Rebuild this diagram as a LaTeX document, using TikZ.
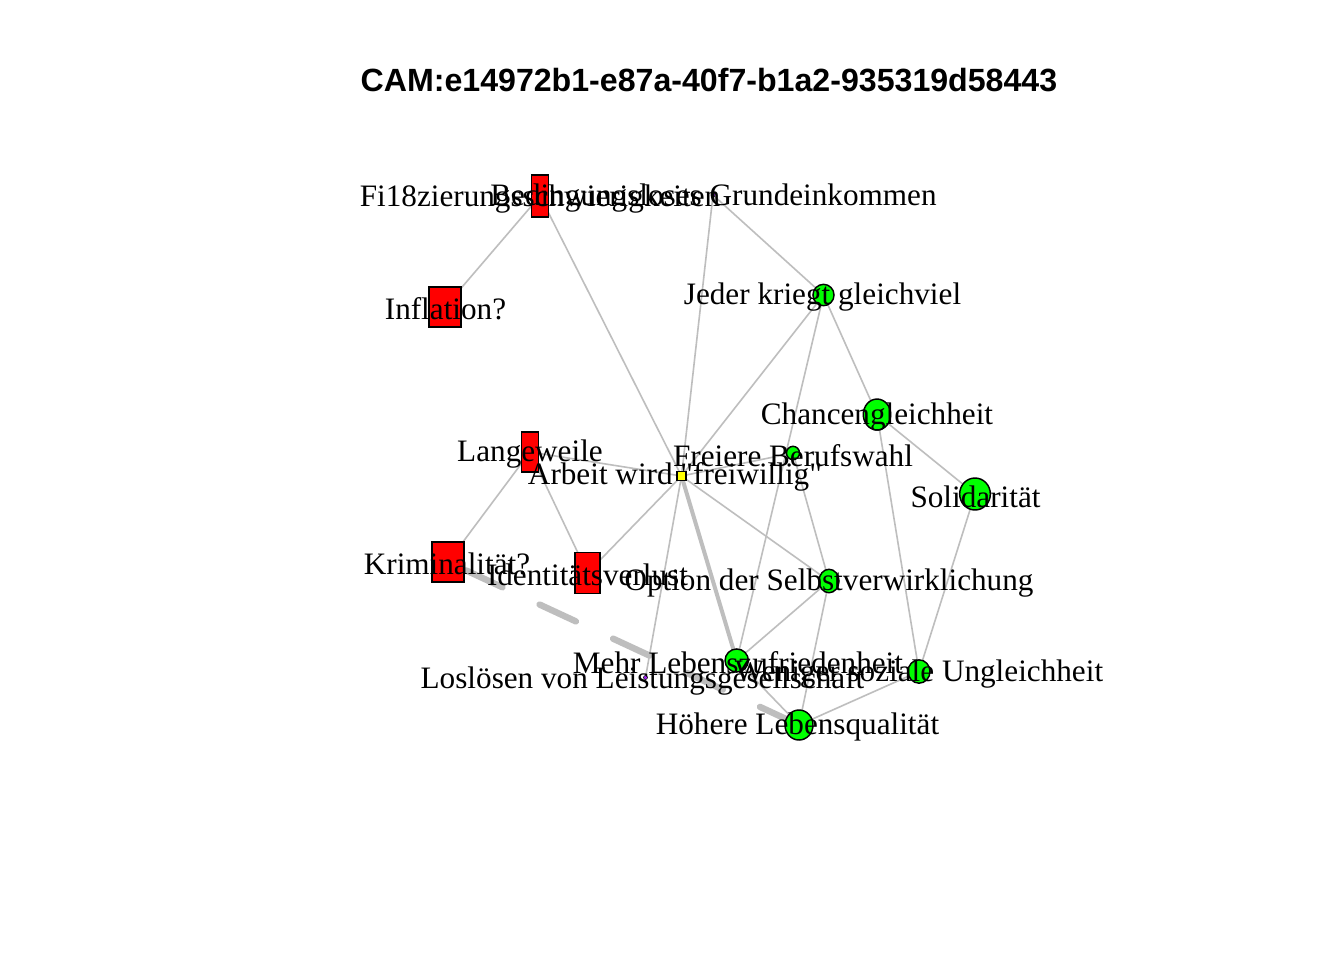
\documentclass[tikz,border=0pt]{standalone}
\usepackage{fontspec}
\setmainfont{Liberation Serif}
\newfontfamily\titlefont{Liberation Sans}
\usetikzlibrary{shapes.geometric}
\definecolor{rgray}{HTML}{BEBEBE}
\definecolor{rgreen}{HTML}{00FF00}
\definecolor{rred}{HTML}{FF0000}
\definecolor{ryellow}{HTML}{FFFF00}
\definecolor{rpurple}{HTML}{A020F0}
\pgfdeclarelayer{paperlayer}
\pgfdeclarelayer{edgelayer}
\pgfsetlayers{paperlayer,edgelayer,main}
\begin{document}
\begin{tikzpicture}[x=0.75pt,y=-0.75pt,
  edge/.style={draw=rgray, line width=1.2pt},
  thickedge/.style={draw=rgray, line width=3pt},
  dashedge/.style={draw=rgray, line width=4.8pt, line cap=round, dash pattern=on 30pt off 30.75pt, dash phase=45.75pt},
  redbox/.style={rectangle, draw=black, fill=rred, line width=1.1pt, inner sep=0pt},
  greendot/.style={ellipse, draw=black, fill=rgreen, line width=1.1pt, inner sep=0pt},
  yellowbox/.style={rectangle, draw=black, fill=ryellow, line width=1.1pt, inner sep=0pt, minimum size=6.5pt},
  purpledot/.style={circle, draw=black, fill=rpurple, line width=0.4pt, inner sep=0pt, minimum size=3pt},
  lbl/.style={font=\fontsize{23.4}{23.4}\selectfont, text height=15.4pt, text depth=0pt, inner sep=0pt, anchor=center},
  ttl/.style={font=\titlefont\bfseries\fontsize{24.1}{24.1}\selectfont, text height=17.3pt, text depth=0pt, inner sep=0pt, anchor=center}
]
\begin{pgfonlayer}{paperlayer}
\fill[white] (0,0) rectangle (1344,960);
\end{pgfonlayer}
\useasboundingbox (0,0) rectangle (1344,960);

% title
\node[ttl] (title) at (709,80) {CAM:e14972b1-e87a-40f7-b1a2-935319d58443};

% vertex shapes
\node[redbox, minimum width=12.5pt, minimum height=31.2pt] (fin) at (540,196) {};
\node[purpledot] (bge) at (713,195) {};
\node[redbox, minimum width=24pt, minimum height=30pt] (inf) at (445,307) {};
\node[greendot, minimum width=15.8pt, minimum height=16pt] (jed) at (823.5,295) {};
\node[greendot, minimum width=20.6pt, minimum height=23.2pt] (cha) at (877,414.5) {};
\node[greendot, minimum width=9.8pt, minimum height=10pt] (fre) at (793,453) {};
\node[yellowbox] (arb) at (681.5,476) {};
\node[redbox, minimum width=12.5pt, minimum height=30pt] (lan) at (530,452) {};
\node[greendot, minimum width=23pt, minimum height=24pt] (sol) at (975,494) {};
\node[redbox, minimum width=24pt, minimum height=30pt] (kri) at (448,562) {};
\node[redbox, minimum width=18.7pt, minimum height=30.5pt] (ide) at (587.5,573) {};
\node[greendot, minimum width=15pt, minimum height=17.6pt] (opt) at (829,581) {};
\node[greendot, minimum width=17.5pt, minimum height=17.3pt] (meh) at (736.7,660.5) {};
\node[greendot, minimum width=16.5pt, minimum height=17.5pt] (wen) at (919,671.5) {};
\node[purpledot] (los) at (645.5,677.5) {};
\node[greendot, minimum width=21pt, minimum height=22.5pt] (hoe) at (799,725) {};

% edges (below the vertices)
\begin{pgfonlayer}{edgelayer}
\draw[edge] (fin.center) -- (inf.center);
\draw[edge] (fin.center) -- (arb.center);
\draw[edge] (bge.center) -- (jed.center);
\draw[edge] (bge.center) -- (arb.center);
\draw[edge] (jed.center) -- (arb.center);
\draw[edge] (jed.center) -- (meh.center);
\draw[edge] (jed.center) -- (cha.center);
\draw[edge] (arb.center) -- (fre.center);
\draw[edge] (fre.center) -- (opt.center);
\draw[edge] (cha.center) -- (sol.center);
\draw[edge] (cha.center) -- (wen.center);
\draw[edge] (sol.center) -- (wen.center);
\draw[edge] (arb.center) -- (opt.center);
\draw[thickedge] (arb.center) -- (meh.center);
\draw[edge] (arb.center) -- (ide.center);
\draw[edge] (arb.center) -- (los.center);
\draw[edge] (lan.center) -- (arb.center);
\draw[edge] (lan.center) -- (kri.center);
\draw[edge] (lan.center) -- (ide.center);
\draw[dashedge] (kri.center) -- (hoe.center);
\draw[edge] (opt.center) -- (meh.center);
\draw[edge] (opt.center) -- (hoe.center);
\draw[edge] (meh.center) -- (hoe.center);
\draw[edge] (wen.center) -- (hoe.center);
\end{pgfonlayer}

% labels (above the vertices)
\node[lbl] (fin-l) at (540,196) {Fi18zierungsschwierigkeiten};
\node[lbl] (bge-l) at (713.5,195) {Bedingungsloses Grundeinkommen};
\node[lbl] (inf-l) at (445.5,309) {Inflation?};
\node[lbl] (jed-l) at (822.5,294) {Jeder kriegt gleichviel};
\node[lbl] (cha-l) at (877,414) {Chancengleichheit};
\node[lbl] (fre-l) at (793,456) {Freiere Berufswahl};
\node[lbl] (arb-l) at (675,474) {Arbeit wird \textquotedbl freiwillig\textquotedbl};
\node[lbl] (lan-l) at (530,451) {Langeweile};
\node[lbl] (sol-l) at (975.5,497) {Solidarität};
\node[lbl] (kri-l) at (447,564) {Kriminalität?};
\node[lbl] (ide-l) at (587.5,575) {Identitätsverlust};
\node[lbl] (opt-l) at (829,580) {Option der Selbstverwirklichung};
\node[lbl] (meh-l) at (738,663) {Mehr Lebenszufriedenheit};
\node[lbl] (wen-l) at (919,671) {Weniger soziale Ungleichheit};
\node[lbl] (los-l) at (642.5,678) {Loslösen von Leistungsgesellschaft};
\node[lbl] (hoe-l) at (797.5,724) {Höhere Lebensqualität};
\end{tikzpicture}
\end{document}
